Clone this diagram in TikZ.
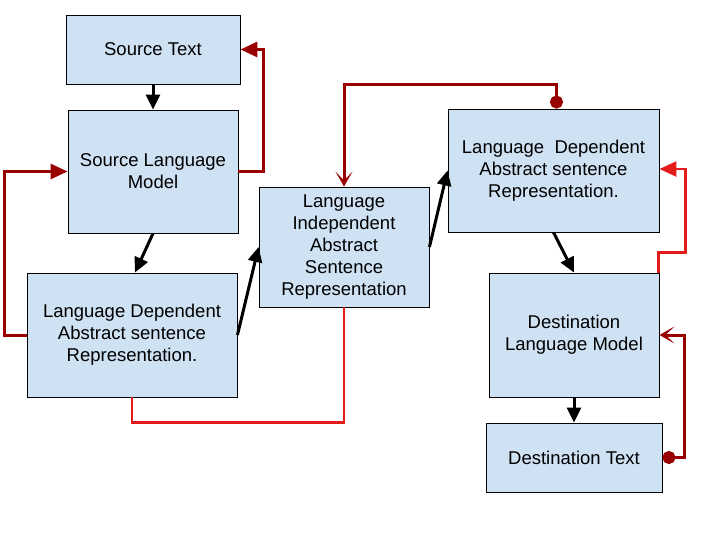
\documentclass[tikz,border=0pt]{standalone}
\usepackage{fontspec}
\setmainfont{Liberation Sans}
\usetikzlibrary{arrows.meta}
\definecolor{boxfill}{HTML}{CFE2F3}
\definecolor{darkred}{HTML}{990000}
\definecolor{brightred}{HTML}{E31B1B}
\begin{document}
\begin{tikzpicture}[x=1pt,y=-1pt,
  box/.style={draw=black,line width=0.9pt,fill=boxfill,align=center,inner sep=2pt,
    font=\fontsize{18.5}{22}\selectfont},
  blk/.style={draw=black,line width=3pt,-{Triangle[length=15pt,width=14pt]}},
  drk/.style={draw=darkred,line width=3pt},
  brt/.style={draw=brightred,line width=2.6pt},
  filltip/.style={-{Triangle[length=17pt,width=15pt]}},
  dotbarb/.style={{Circle[length=13pt]}-{Stealth[length=15pt,width=17pt,inset=9pt]}}
]
\useasboundingbox (0,0) rectangle (720,540);
\node[box,minimum width=174pt,minimum height=69pt] (st) at (153,49.5) {Source Text};
\node[box,minimum width=170pt,minimum height=123pt] (slm) at (153,171.5) {Source Language\\Model};
\node[box,minimum width=210pt,minimum height=124pt] (ldl) at (132,335) {Language Dependent\\Abstract sentence\\Representation.};
\node[box,minimum width=170pt,minimum height=120pt] (li) at (344,247) {Language\\Independent\\Abstract\\Sentence\\Representation};
\node[box,minimum width=211pt,minimum height=123pt] (ldr) at (553.5,170.5) {Language\ \ Dependent\\Abstract sentence\\Representation.};
\node[box,minimum width=170pt,minimum height=124pt] (dlm) at (574,335) {Destination\\Language Model};
\node[box,minimum width=176pt,minimum height=69pt] (dt) at (574,457.5) {Destination Text};

% black flow arrows
\draw[blk] (st.south) -- (slm.north);
\draw[blk] (slm.south) -- ([xshift=3pt]ldl.north);
\draw[blk] (ldl.east) -- (li.west);
\draw[blk] (li.east) -- (ldr.west);
\draw[blk] (ldr.south) -- (dlm.north);
\draw[blk] (dlm.south) -- (dt.north);

% feedback connectors
\draw[drk,filltip] (slm.east) -- ++(25,0) |- (st.east);
\draw[drk,filltip] (ldl.west) -- ++(-22,0) |- (slm.west);
\draw[brt] (ldl.south) -- ++(0,25) -| (li.south);
\draw[drk,dotbarb] ([xshift=3pt]ldr.north) -- ++(0,-24) -| (li.north);
\draw[brt,filltip] ([xshift=-1pt]dlm.north east) -- ++(0,-20) -- ++(27,0) |- ([yshift=1.5pt]ldr.east);
\draw[drk,dotbarb] (dt.east) -- ++(22,0) |- (dlm.east);
\end{tikzpicture}
\end{document}
